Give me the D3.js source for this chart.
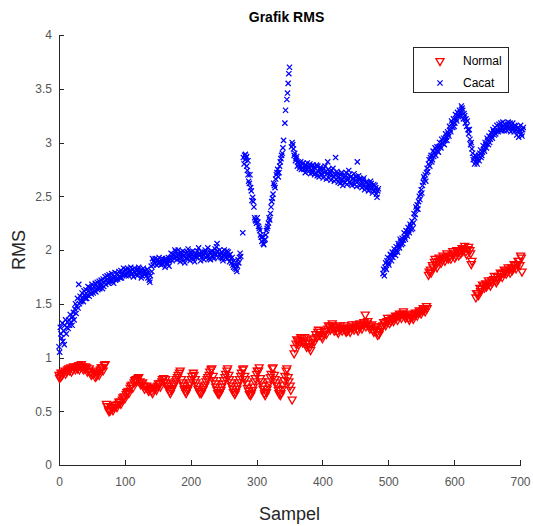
<!DOCTYPE html>
<html>
<head>
<meta charset="utf-8">
<script src="https://d3js.org/d3.v7.min.js"></script>
<style>
body{margin:0;background:#fff;}
svg{display:block;font-family:'Liberation Sans',Arial,sans-serif;}
.axis path,.axis line{stroke:#262626;shape-rendering:crispEdges;}
.axis text{fill:#555;font-size:12px;font-family:'Liberation Sans',Arial,sans-serif;}
.normal{fill:none;stroke:#ff0000;stroke-width:1.3;}
.cacat{fill:none;stroke:#0000ff;stroke-width:1.25;}
</style>
</head>
<body>
<svg id="chart" width="533" height="526"></svg>
<script>
// [sampel, rms]
var normal=[
[0,0.84],[2,0.82],[3,0.86],[6,0.85],[9,0.88],[12,0.87],[15,0.90],[18,0.91],[21,0.89],[24,0.91],[27,0.92],[30,0.93],
[33,0.91],[36,0.92],[39,0.90],[42,0.91],[45,0.88],[48,0.87],[51,0.85],[54,0.86],[57,0.83],[60,0.86],[63,0.89],[66,0.91],[69,0.93],
[72,0.57],[75,0.52],[78,0.51],[81,0.53],[84,0.54],[87,0.56],[90,0.57],[93,0.59],[96,0.61],[99,0.64],[102,0.66],[105,0.69],
[108,0.72],[111,0.75],[114,0.77],[117,0.80],[120,0.81],[123,0.78],[126,0.76],[129,0.74],[132,0.73],[135,0.71],[138,0.70],
[141,0.69],[144,0.71],[147,0.72],[150,0.74],[153,0.76],[156,0.78],[159,0.81],[162,0.80],[165,0.74],[168,0.69],[171,0.70],
[174,0.74],[177,0.78],[180,0.82],[183,0.86],[186,0.80],[189,0.74],[192,0.69],[195,0.70],[198,0.75],[201,0.80],[204,0.86],
[207,0.80],[210,0.74],[213,0.69],[216,0.67],[219,0.71],[222,0.75],[225,0.80],[228,0.84],[231,0.89],[234,0.83],[237,0.76],
[240,0.70],[243,0.66],[246,0.70],[249,0.76],[252,0.82],[255,0.88],[258,0.84],[261,0.77],[264,0.71],[267,0.66],[270,0.71],
[273,0.77],[276,0.83],[279,0.89],[282,0.83],[285,0.76],[288,0.69],[291,0.65],[294,0.70],[297,0.78],[300,0.85],[303,0.88],
[306,0.81],[309,0.74],[312,0.67],[315,0.68],[318,0.75],[321,0.82],[324,0.90],[327,0.84],[330,0.77],[333,0.70],[336,0.65],
[339,0.71],[342,0.79],[345,0.88],[348,0.82],[351,0.74],[354,0.61],
[357,1.04],[360,1.13],[363,1.16],[366,1.15],[369,1.18],[372,1.16],[375,1.13],[378,1.11],[381,1.10],[384,1.14],[387,1.18],
[390,1.22],[393,1.24],[396,1.21],[399,1.20],[402,1.22],[405,1.25],[408,1.27],[411,1.29],[414,1.30],[417,1.28],[420,1.26],
[423,1.25],[426,1.27],[429,1.28],[432,1.27],[435,1.26],[438,1.25],[441,1.27],[444,1.28],[447,1.29],[450,1.28],[453,1.27],
[456,1.29],[459,1.30],[462,1.31],[465,1.40],[468,1.32],[471,1.30],[474,1.28],[477,1.26],[480,1.27],[483,1.24],[486,1.22],
[489,1.27],[492,1.30],[495,1.32],[498,1.34],[501,1.35],[504,1.34],[507,1.36],[510,1.37],[513,1.38],[516,1.39],[519,1.40],
[522,1.41],[525,1.39],[528,1.38],[531,1.37],[534,1.38],[537,1.38],[540,1.40],[543,1.41],[546,1.42],[549,1.43],[552,1.44],
[555,1.45],[558,1.48],
[561,1.77],[564,1.82],[567,1.86],[570,1.89],[573,1.87],[576,1.90],[579,1.92],[582,1.91],[585,1.93],[588,1.94],[591,1.92],
[594,1.95],[597,1.96],[600,1.97],[603,1.95],[606,1.98],[609,2.00],[612,2.02],[615,2.01],[618,1.99],[621,2.01],[624,2.00],[627,1.90],
[633,1.56],[636,1.60],[639,1.65],[642,1.64],[645,1.67],[648,1.69],[651,1.68],[654,1.70],[657,1.72],[660,1.73],[663,1.72],
[666,1.75],[669,1.76],[672,1.78],[675,1.79],[678,1.81],[681,1.80],[684,1.82],[687,1.84],[690,1.83],[693,1.86],[696,1.87],
[699,1.90],[702,1.93],[703,1.80]
];
// the samples in between, giving the bands their thickness
var normal2=[
[1,0.81],[4,0.83],[7,0.86],[10,0.85],[13,0.89],[16,0.88],[19,0.87],[22,0.92],[25,0.89],[28,0.90],[31,0.89],[34,0.94],
[37,0.89],[40,0.92],[43,0.87],[46,0.90],[49,0.84],[52,0.88],[55,0.82],[58,0.85],[61,0.84],[64,0.91],[67,0.88],[70,0.94],
[73,0.55],[76,0.50],[79,0.54],[82,0.51],[85,0.56],[88,0.54],[91,0.59],[94,0.57],[97,0.63],[100,0.62],[103,0.68],[106,0.67],
[109,0.74],[112,0.72],[115,0.79],[118,0.78],[121,0.82],[124,0.75],[127,0.77],[130,0.71],[133,0.74],[136,0.69],[139,0.72],
[142,0.67],[145,0.73],[148,0.70],[151,0.76],[154,0.73],[157,0.80],[160,0.77],[163,0.77],[166,0.71],[169,0.67],[172,0.72],
[175,0.76],[178,0.80],[181,0.84],[184,0.88],[187,0.77],[190,0.71],[193,0.67],[196,0.72],[199,0.77],[202,0.83],[205,0.84],
[208,0.77],[211,0.71],[214,0.67],[217,0.69],[220,0.73],[223,0.78],[226,0.82],[229,0.87],[232,0.90],[235,0.79],[238,0.73],
[241,0.67],[244,0.68],[247,0.73],[250,0.79],[253,0.85],[256,0.90],[259,0.80],[262,0.74],[265,0.68],[268,0.68],[271,0.74],
[274,0.80],[277,0.86],[280,0.90],[283,0.80],[286,0.72],[289,0.66],[292,0.67],[295,0.73],[298,0.81],[301,0.88],[304,0.91],
[307,0.78],[310,0.71],[313,0.65],[316,0.71],[319,0.78],[322,0.85],[325,0.91],[328,0.80],[331,0.74],[334,0.67],[337,0.67],
[340,0.75],[343,0.83],[346,0.90],[349,0.78],[352,0.70],
[358,1.09],[361,1.17],[364,1.12],[367,1.19],[370,1.14],[373,1.19],[376,1.10],[379,1.14],[382,1.07],[385,1.17],[388,1.15],
[391,1.19],[394,1.26],[397,1.24],[400,1.18],[403,1.25],[406,1.22],[409,1.30],[412,1.26],[415,1.32],[418,1.25],[421,1.29],
[424,1.23],[427,1.30],[430,1.25],[433,1.30],[436,1.24],[439,1.28],[442,1.24],[445,1.31],[448,1.26],[451,1.31],[454,1.25],
[457,1.32],[460,1.27],[463,1.33],[466,1.29],[469,1.34],[472,1.27],[475,1.31],[478,1.24],[481,1.29],[484,1.21],[487,1.25],
[490,1.29],[493,1.33],[496,1.30],[499,1.37],[502,1.32],[505,1.37],[508,1.34],[511,1.39],[514,1.35],[517,1.41],[520,1.37],
[523,1.43],[526,1.37],[529,1.41],[532,1.35],[535,1.40],[538,1.36],[541,1.42],[544,1.39],[547,1.44],[550,1.41],[553,1.46],
[556,1.43],[559,1.46],
[562,1.80],[565,1.79],[568,1.84],[571,1.92],[574,1.84],[577,1.93],[580,1.88],[583,1.95],[586,1.90],[589,1.97],[592,1.93],
[595,1.92],[598,1.99],[601,1.93],[604,2.00],[607,1.95],[610,1.97],[613,1.99],[616,2.04],[619,1.96],[622,2.03],[625,1.97],[626,1.87],
[634,1.60],[637,1.58],[640,1.62],[643,1.68],[646,1.65],[649,1.66],[652,1.72],[655,1.67],[658,1.70],[661,1.76],[664,1.70],
[667,1.73],[670,1.79],[673,1.75],[676,1.82],[679,1.78],[682,1.84],[685,1.79],[688,1.81],[691,1.87],[694,1.83],[697,1.90],
[700,1.86],[701,1.95]
];
var cacat=[
[0,1.10],[3,1.22],[6,1.15],[9,1.30],[12,1.28],[15,1.35],[18,1.33],[21,1.38],[24,1.45],[27,1.48],[30,1.68],[33,1.52],
[36,1.56],[39,1.58],[42,1.55],[45,1.62],[48,1.60],[51,1.64],[54,1.62],[57,1.66],[60,1.65],[63,1.68],[66,1.64],[69,1.70],
[72,1.72],[75,1.69],[78,1.74],[81,1.71],[84,1.75],[87,1.73],[90,1.77],[93,1.74],[96,1.78],[99,1.80],[102,1.76],[105,1.79],
[108,1.81],[111,1.78],[114,1.80],[117,1.77],[120,1.82],[123,1.79],[126,1.76],[129,1.81],[132,1.78],[135,1.74],[138,1.70],
[141,1.80],[144,1.90],[147,1.89],[150,1.91],[153,1.88],[156,1.90],[159,1.89],[162,1.92],[165,1.87],[168,1.90],[171,1.93],
[174,1.95],[177,1.99],[180,1.97],[183,1.92],[186,1.96],[189,1.90],[192,1.94],[195,1.98],[198,1.93],[201,1.96],[204,1.91],
[207,1.95],[210,1.99],[213,1.97],[216,1.93],[219,1.96],[222,2.00],[225,1.95],[228,1.92],[231,1.97],[234,1.94],[237,2.01],
[240,2.06],[243,1.96],[246,1.93],[249,1.90],[252,1.97],[255,1.99],[258,1.95],[261,1.92],[264,1.86],[267,1.83],[270,1.80],
[273,1.88],[276,1.94],
[279,2.16],[281,2.80],[282,2.88],[283,2.84],[284,2.86],[285,2.78],[286,2.74],[287,2.83],[288,2.64],[290,2.70],[292,2.55],
[294,2.49],[296,2.40],[298,2.28],[300,2.25],[301,2.30],[303,2.22],[305,2.18],[306,2.14],[308,2.08],[309,2.12],[311,2.05],
[313,2.10],[315,2.18],[317,2.22],[319,2.30],[321,2.34],[323,2.45],[325,2.52],[326,2.62],[328,2.58],[330,2.70],[332,2.75],
[334,2.72],[336,2.82],[338,2.88],[340,2.95],[341,3.02],[343,3.18],[344,3.30],[346,3.40],[347,3.46],[348,3.55],[349,3.64],[350,3.70],
[354,3.00],[356,2.94],[358,2.90],[360,2.85],[363,2.82],[366,2.78],[369,2.80],[372,2.75],[375,2.79],[378,2.76],[381,2.80],
[384,2.74],[387,2.77],[390,2.72],[393,2.78],[396,2.75],[399,2.71],[402,2.76],[405,2.73],[408,2.82],[411,2.70],[414,2.74],
[417,2.68],[420,2.86],[423,2.71],[426,2.66],[429,2.72],[432,2.64],[435,2.69],[438,2.65],[441,2.70],[444,2.62],[447,2.67],
[450,2.64],[453,2.82],[456,2.66],[459,2.61],[462,2.65],[465,2.59],[468,2.63],[471,2.58],[474,2.62],[477,2.56],[480,2.60],
[483,2.49],[485,2.57],
[492,1.78],[495,1.84],[498,1.90],[501,1.86],[504,1.95],[507,1.93],[510,1.98],[513,2.00],[516,2.04],[519,2.08],[522,2.06],
[525,2.12],[528,2.15],[531,2.18],[534,2.22],[537,2.20],[540,2.30],[543,2.38],[546,2.45],[549,2.52],[552,2.60],[555,2.66],
[558,2.72],[561,2.80],[564,2.86],[567,2.84],[570,2.90],[573,2.93],[576,2.91],[579,2.97],[582,3.00],[585,2.98],[588,3.05],
[591,3.08],[594,3.12],[597,3.18],[600,3.15],[603,3.22],[606,3.25],[609,3.28],[612,3.32],[615,3.27],[618,3.22],[621,3.12],
[624,3.03],[627,2.94],[630,2.86],[633,2.82],[636,2.85],[639,2.90],[642,2.88],[645,2.94],[648,2.98],[651,3.02],[654,3.00],
[657,3.06],[660,3.10],[663,3.08],[666,3.12],[669,3.14],[672,3.11],[675,3.15],[678,3.13],[681,3.17],[684,3.14],[687,3.16],
[690,3.12],[693,3.15],[696,3.10],[699,3.13],[702,3.08],[705,3.14]
];
var cacat2=[
[1,1.05],[2,1.28],[4,1.18],[5,1.32],[7,1.25],[8,1.12],[10,1.35],[11,1.22],[13,1.33],[14,1.27],[16,1.30],[17,1.40],
[19,1.37],[20,1.30],[22,1.42],[23,1.35],[25,1.50],[26,1.41],[28,1.55],[29,1.46],[31,1.50],[32,1.57],[34,1.53],[35,1.60],
[37,1.52],[38,1.62],[40,1.55],[41,1.63],[43,1.58],[44,1.66],[46,1.57],[47,1.65],[49,1.59],[50,1.68],[52,1.60],[53,1.66],
[55,1.69],[56,1.61],[58,1.70],[59,1.63],[61,1.71],[62,1.64],[64,1.72],[65,1.67],[67,1.73],[68,1.66],[70,1.75],[71,1.68],
[73,1.76],[74,1.70],[76,1.77],[77,1.71],[79,1.72],[80,1.78],[82,1.74],[83,1.69],[85,1.79],[86,1.72],[88,1.78],[89,1.73],
[91,1.80],[92,1.75],[94,1.81],[95,1.74],[97,1.76],[98,1.83],[100,1.77],[101,1.82],[103,1.78],[104,1.83],[106,1.76],[107,1.80],
[109,1.84],[110,1.77],[112,1.82],[113,1.75],[115,1.83],[116,1.79],[118,1.81],[119,1.76],[121,1.84],[122,1.78],[124,1.81],
[125,1.74],[127,1.79],[128,1.83],[130,1.77],[131,1.80],[133,1.76],[134,1.82],[136,1.79],[137,1.72],[139,1.76],[140,1.85],
[142,1.92],[143,1.86],[145,1.88],[146,1.92],[148,1.86],[149,1.90],[151,1.87],[152,1.93],[154,1.89],[155,1.86],[157,1.92],
[158,1.87],[160,1.91],[161,1.84],[163,1.90],[164,1.88],[166,1.93],[167,1.85],[169,1.92],[170,1.97],[172,1.90],[173,1.96],
[175,1.92],[176,2.00],[178,1.94],[179,1.91],[181,2.00],[182,1.95],[184,1.89],[185,1.98],[187,1.93],[188,1.99],[190,1.95],
[191,1.88],[193,1.97],[194,1.92],[196,2.01],[197,1.95],[199,1.90],[200,1.98],[202,1.93],[203,1.99],[205,1.94],[206,1.89],
[208,1.97],[209,1.93],[211,1.96],[212,2.02],[214,1.95],[215,1.90],[217,1.98],[218,1.94],[220,1.91],[221,1.98],[223,1.93],
[224,1.97],[226,2.02],[227,1.94],[229,1.98],[230,1.91],[232,1.99],[233,1.95],[235,1.92],[236,1.98],[238,1.96],[239,2.03],
[241,1.99],[242,1.93],[244,2.00],[245,1.95],[247,1.98],[248,1.92],[250,1.95],[251,2.00],[253,1.93],[254,1.96],[256,1.92],
[257,1.98],[259,1.89],[260,1.96],[262,1.88],[263,1.93],[265,1.84],[266,1.90],[268,1.86],[269,1.82],[271,1.85],[272,1.91],
[274,1.93],[275,1.97],
[280,2.86],[283,2.89],[285,2.87],[287,2.70],[289,2.62],[291,2.58],[293,2.46],[295,2.45],[297,2.30],[299,2.27],[302,2.26],
[304,2.20],[307,2.12],[310,2.06],[312,2.09],[314,2.14],[316,2.20],[318,2.25],[320,2.28],[322,2.40],[324,2.48],[327,2.60],
[329,2.66],[331,2.72],[333,2.68],[335,2.78],[337,2.85],[339,2.90],
[353,2.96],[355,2.98],[357,2.88],[359,2.83],[361,2.87],[362,2.78],[364,2.80],[365,2.76],[367,2.82],[368,2.75],[370,2.77],
[371,2.81],[373,2.78],[374,2.72],[376,2.75],[377,2.81],[379,2.73],[380,2.77],[382,2.71],[383,2.78],[385,2.72],[386,2.79],
[388,2.70],[389,2.76],[391,2.79],[392,2.69],[394,2.73],[395,2.68],[397,2.77],[398,2.70],[400,2.74],[401,2.67],[403,2.72],
[404,2.78],[406,2.66],[407,2.71],[409,2.75],[410,2.67],[412,2.72],[413,2.65],[415,2.70],[416,2.76],[418,2.64],[419,2.70],
[421,2.66],[422,2.73],[424,2.63],[425,2.68],[427,2.62],[428,2.70],[430,2.65],[431,2.60],[433,2.68],[434,2.63],[436,2.72],
[437,2.61],[439,2.67],[440,2.74],[442,2.63],[443,2.68],[445,2.60],[446,2.66],[448,2.71],[449,2.61],[451,2.68],[452,2.59],
[454,2.64],[455,2.69],[457,2.60],[458,2.66],[460,2.58],[461,2.62],[463,2.67],[464,2.56],[466,2.63],[467,2.58],[469,2.61],
[470,2.55],[472,2.60],[473,2.64],[475,2.58],[476,2.53],[478,2.61],[479,2.55],[481,2.58],[482,2.52],[484,2.55],
[493,1.82],[494,1.76],[496,1.88],[497,1.82],[499,1.93],[500,1.88],[502,1.92],[503,1.96],[505,1.90],[506,1.98],[508,1.96],
[509,2.01],[511,1.95],[512,2.03],[514,1.98],[515,2.06],[517,2.02],[518,2.10],[520,2.05],[521,2.11],[523,2.09],[524,2.16],
[526,2.10],[527,2.18],[529,2.13],[530,2.21],[532,2.16],[533,2.24],[535,2.19],[536,2.27],[538,2.25],[539,2.34],[541,2.33],
[542,2.40],[544,2.42],[545,2.38],[547,2.50],[548,2.47],[550,2.56],[551,2.53],[553,2.63],[554,2.68],[556,2.70],[557,2.64],
[559,2.76],[560,2.73],[562,2.84],[563,2.78],[565,2.88],[566,2.82],[568,2.92],[569,2.87],[571,2.95],[572,2.88],[574,2.96],
[575,2.92],[577,2.96],[578,3.00],[580,2.95],[581,3.03],[583,2.99],[584,3.04],[586,3.02],[587,3.08],[589,3.02],[590,3.10],
[592,3.06],[593,3.15],[595,3.10],[596,3.20],[598,3.14],[599,3.22],[601,3.18],[602,3.26],[604,3.20],[605,3.28],[607,3.24],
[608,3.30],[610,3.25],[611,3.34],[613,3.30],[614,3.22],[616,3.25],[617,3.18],[619,3.15],[620,3.20],[622,3.08],[623,3.12],
[625,2.98],[626,3.00],[628,2.90],[629,2.84],[631,2.80],[632,2.88],[634,2.84],[635,2.80],[637,2.88],[638,2.83],[640,2.93],
[641,2.86],[643,2.91],[644,2.97],[646,2.92],[647,3.00],[649,2.95],[650,3.04],[652,2.98],[653,3.06],[655,3.03],[656,3.09],
[658,3.04],[659,3.12],[661,3.07],[662,3.14],[664,3.10],[665,3.16],[667,3.10],[668,3.17],[670,3.12],[671,3.18],[673,3.14],
[674,3.19],[676,3.11],[677,3.17],[679,3.15],[680,3.11],[682,3.19],[683,3.13],[685,3.18],[686,3.10],[688,3.14],[689,3.18],
[691,3.10],[692,3.16],[694,3.12],[695,3.07],[697,3.14],[698,3.05],[700,3.11],[701,3.16],[703,3.06],[704,3.12]
];
var xTicks=[0,100,200,300,400,500,600,700];
var yTicks=[0,0.5,1,1.5,2,2.5,3,3.5,4];
var legendNames=['Normal','Cacat'];

var m={top:35,right:13,bottom:61,left:59};
var w=533-m.left-m.right, h=526-m.top-m.bottom;
var x=d3.scaleLinear().domain([0,700]).range([0,w]);
var y=d3.scaleLinear().domain([0,4]).range([h,0]);
var svg=d3.select('#chart');
var g=svg.append('g').attr('transform','translate('+m.left+','+m.top+')');

g.append('g').attr('class','axis').attr('transform','translate(0,'+h+')')
 .call(d3.axisBottom(x).tickValues(xTicks).tickSizeInner(-5).tickSizeOuter(0).tickPadding(12).tickFormat(d3.format('d')));
g.append('g').attr('class','axis')
 .call(d3.axisLeft(y).tickValues(yTicks).tickSizeInner(-5).tickSizeOuter(0).tickPadding(7).tickFormat(function(d){return String(d)}));

var tri=d3.symbol().type(d3.symbolTriangle).size(28);
var cross='M-2.6,-2.6L2.6,2.6M-2.6,2.6L2.6,-2.6';

g.selectAll('.normal').data(normal.concat(normal2)).enter().append('path').attr('class','normal')
 .attr('d',tri).attr('transform',function(d){return 'translate('+x(d[0])+','+y(d[1])+') rotate(180)'});
g.selectAll('.cacat').data(cacat.concat(cacat2)).enter().append('path').attr('class','cacat')
 .attr('d',cross).attr('transform',function(d){return 'translate('+x(d[0])+','+y(d[1])+')'});

// title and labels
svg.append('text').attr('x',m.left+w/2-3).attr('y',22).attr('text-anchor','middle')
   .style('font-size','14px').style('font-weight','bold').style('fill','#000').text('Grafik RMS');
svg.append('text').attr('x',m.left+w/2).attr('y',520).attr('text-anchor','middle')
   .style('font-size','18px').style('fill','#262626').text('Sampel');
svg.append('text').attr('transform','translate(25,'+(m.top+h/2)+') rotate(-90)').attr('text-anchor','middle')
   .style('font-size','18px').style('fill','#262626').text('RMS');

// legend
var lg=svg.append('g').attr('transform','translate(413,47)');
lg.append('rect').attr('width',95).attr('height',45).attr('fill','#fff').attr('stroke','#262626').attr('shape-rendering','crispEdges');
lg.append('path').attr('class','normal').attr('d',tri).attr('transform','translate(27,14) rotate(180)');
lg.append('path').attr('class','cacat').attr('d',cross).attr('transform','translate(27,36)');
lg.selectAll('.lt').data(legendNames).enter().append('text').attr('class','lt')
  .attr('x',50).attr('y',function(d,i){return 14+i*22}).attr('dy','0.35em')
  .style('font-size','12px').style('fill','#000').text(function(d){return d});
</script>
</body>
</html>
